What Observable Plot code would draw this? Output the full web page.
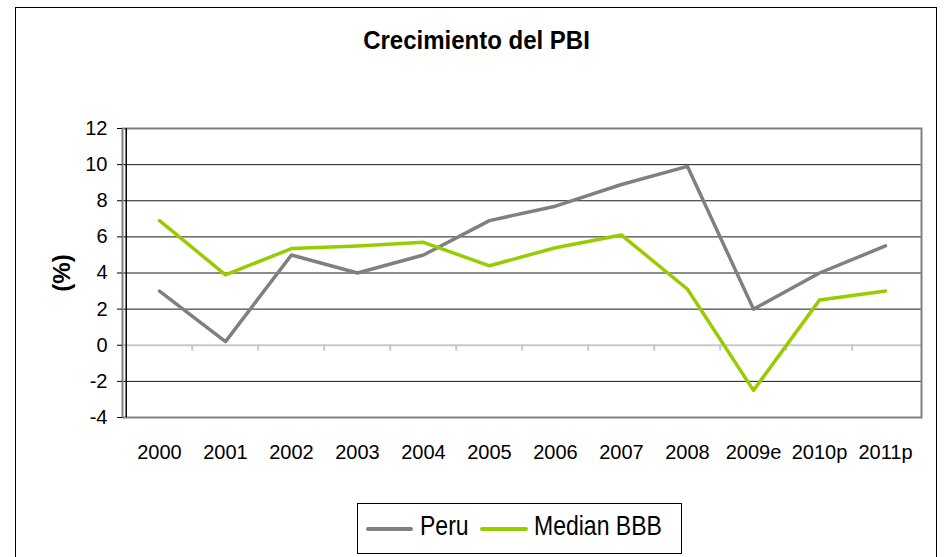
<!DOCTYPE html>
<html>
<head>
<meta charset="utf-8">
<script src="https://cdn.jsdelivr.net/npm/d3@7"></script>
<script src="https://cdn.jsdelivr.net/npm/@observablehq/plot@0.6"></script>
<style>
  html, body { margin: 0; padding: 0; background: #fff; }
  #wrap { position: relative; width: 945px; height: 557px; overflow: hidden; font-family: "Liberation Sans", Arial, sans-serif; color: #000; }
  #chart { position: absolute; left: 0; top: 0; }
  #border { position: absolute; left: 15px; top: 7px; width: 922px; height: 620px; border: 1px solid #000; box-sizing: border-box; }
  #title { position: absolute; left: 0; top: 28px; width: 953px; text-align: center; font-size: 24px; line-height: 24px; font-weight: bold; transform: scaleY(1.08); }
  #legend { position: absolute; left: 357px; top: 503px; width: 325px; height: 51px; border: 1px solid #000; box-sizing: border-box; }
  .swatch { position: absolute; height: 4px; border-radius: 2px; }
  .ltext { position: absolute; font-size: 23px; line-height: 23px; white-space: nowrap; transform: scaleY(1.22); transform-origin: center; }
</style>
</head>
<body>
<div id="wrap">
  <div id="border"></div>
  <div id="chart"></div>
  <div id="title"></div>
  <div id="legend"></div>
</div>
<script>
const titleText = "Crecimiento del PBI";
const yLabel = "(%)";
const categories = ["2000","2001","2002","2003","2004","2005","2006","2007","2008","2009e","2010p","2011p"];
const peru = [3.0, 0.2, 5.0, 4.0, 5.0, 6.9, 7.7, 8.9, 9.9, 2.0, 4.0, 5.5];
const medianBBB = [6.9, 3.9, 5.35, 5.5, 5.7, 4.4, 5.4, 6.1, 3.1, -2.5, 2.5, 3.0];
const yTicks = [-4, -2, 0, 2, 4, 6, 8, 10, 12];
const gridValues = [-2, 2, 4, 6, 8, 10];
const seriesNames = ["Peru", "Median BBB"];
const seriesColors = ["#808080", "#99cc00"];

const data = [
  ...categories.map((c, i) => ({category: c, value: peru[i], series: seriesNames[0]})),
  ...categories.map((c, i) => ({category: c, value: medianBBB[i], series: seriesNames[1]}))
];

const halfBand = (945 - 122 - 24) / categories.length / 2;

const chart = Plot.plot({
  width: 945,
  height: 557,
  marginLeft: 122,
  marginRight: 24,
  marginTop: 128,
  marginBottom: 140,
  style: {fontFamily: "'Liberation Sans', Arial, sans-serif", fontSize: "20px", color: "#000", background: "transparent"},
  x: {type: "point", domain: categories, padding: 0.5, label: null},
  y: {domain: [-4, 12], label: null},
  color: {domain: seriesNames, range: seriesColors},
  marks: [
    Plot.ruleY(gridValues, {stroke: "#1a1a1a", strokeWidth: 1}),
    Plot.ruleY([0], {stroke: "#c8c8c8", strokeWidth: 2}),
    Plot.ruleX(categories.slice(1), {x: d => d, y1: 0, y2: -0.33, dx: -halfBand, stroke: "#c8c8c8", strokeWidth: 2}),
    Plot.frame({stroke: "#808080", strokeWidth: 2}),
    Plot.ruleX([categories[0]], {x: d => d, y1: -4, y2: 12, dx: -halfBand, stroke: "#000", strokeWidth: 1.5}),
    Plot.line(data, {x: "category", y: "value", stroke: "series", strokeWidth: 3.5, strokeLinejoin: "round", strokeLinecap: "round"}),
    Plot.axisY({ticks: yTicks, tickFormat: d => String(d), tickSize: 5, tickPadding: 10, fontSize: 20, label: null, stroke: "#000"}),
    Plot.axisX({tickSize: 0, tickPadding: 27, fontSize: 20, label: null}),
    Plot.text([yLabel], {frameAnchor: "left", dx: -60, rotate: -90, textAnchor: "middle", fontWeight: "bold", fontSize: 24})
  ]
});
document.getElementById("chart").appendChild(chart);
document.getElementById("title").textContent = titleText;

const legend = document.getElementById("legend");
const items = [
  {name: seriesNames[0], color: seriesColors[0], lineLeft: 8, lineW: 47, textLeft: 62},
  {name: seriesNames[1], color: seriesColors[1], lineLeft: 122, lineW: 48, textLeft: 176}
];
for (const it of items) {
  const sw = document.createElement("div");
  sw.className = "swatch";
  sw.style.left = it.lineLeft + "px";
  sw.style.top = "23px";
  sw.style.width = it.lineW + "px";
  sw.style.background = it.color;
  legend.appendChild(sw);
  const tx = document.createElement("div");
  tx.className = "ltext";
  tx.style.left = it.textLeft + "px";
  tx.style.top = "10px";
  tx.textContent = it.name;
  legend.appendChild(tx);
}
</script>
</body>
</html>
